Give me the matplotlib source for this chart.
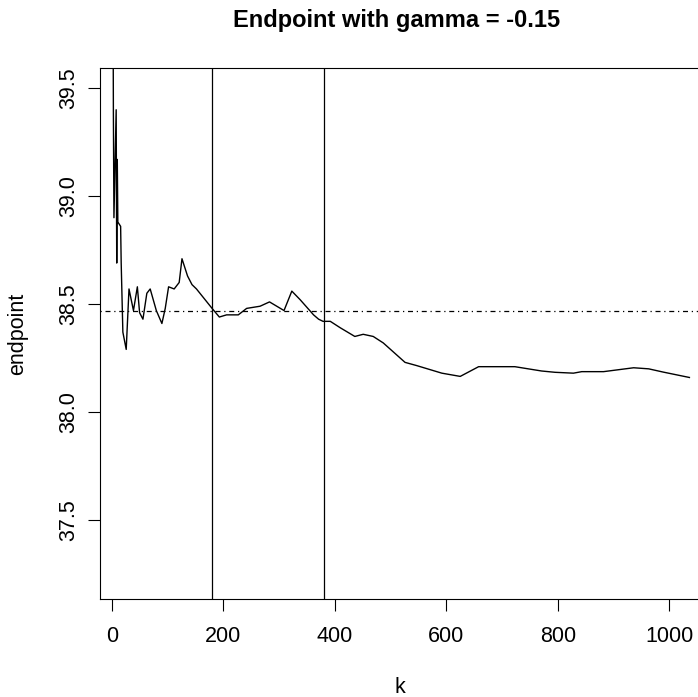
import numpy as np
import matplotlib
matplotlib.use('Agg')
import matplotlib.pyplot as plt

plt.rcParams['font.family'] = ['Liberation Sans', 'DejaVu Sans']

# endpoint estimate for each k
k_vals = [2, 3, 4, 8, 9, 10, 11, 16, 17, 20, 26, 31, 39, 46, 50, 56, 63, 69, 80,
          90, 96, 102, 112, 121, 126, 136, 144, 152, 180, 193, 206, 227, 242, 266,
          283, 296, 309, 323, 338, 362, 371, 379, 392, 410, 436, 451, 469, 487,
          526, 547, 592, 625, 658, 723, 771, 795, 828, 843, 882, 936, 963, 989, 1036]
endpoint = [40.30, 39.39, 38.90, 39.40, 38.69, 39.17, 38.88, 38.86, 38.69, 38.37,
            38.29, 38.57, 38.47, 38.58, 38.46, 38.43, 38.55, 38.57, 38.47,
            38.41, 38.48, 38.58, 38.57, 38.60, 38.71, 38.63, 38.59, 38.57, 38.48,
            38.44, 38.45, 38.45, 38.48, 38.49, 38.51, 38.49, 38.47, 38.56, 38.52,
            38.45, 38.43, 38.42, 38.42, 38.39, 38.35, 38.36, 38.35, 38.32,
            38.23, 38.215, 38.18, 38.165, 38.21, 38.21, 38.19, 38.184, 38.18,
            38.187, 38.187, 38.205, 38.20, 38.185, 38.16]
ref_level = 38.47
breaks = [180, 380]

fig = plt.figure(figsize=(6.98, 6.97), dpi=100)
ax = fig.add_axes([100 / 698, 98 / 697, 600 / 698, 530.7 / 697])

ax.plot(k_vals, endpoint, color='black', lw=1.0)
ax.axhline(ref_level, color='black', lw=0.9, dashes=(1, 3, 4, 3))
for b in breaks:
    ax.axvline(b, color='black', lw=0.9)

ax.set_xlim(-21, 1055)
ax.set_ylim(37.134, 39.592)
ax.set_xticks([0, 200, 400, 600, 800, 1000])
ax.set_yticks([37.5, 38.0, 38.5, 39.0, 39.5])
ax.set_yticklabels(['37.5', '38.0', '38.5', '39.0', '39.5'])

for s in ax.spines.values():
    s.set_linewidth(0.8)
ax.tick_params(length=8.6, width=0.8, labelsize=15.5)
ax.tick_params(axis='x', pad=11)
ax.tick_params(axis='y', pad=6, labelrotation=90)
for lab in ax.get_yticklabels():
    lab.set_va('center')

ax.set_xlabel('k', fontsize=15.5, va='center')
ax.set_ylabel('endpoint', fontsize=15.5, va='center')
ax.xaxis.set_label_coords(0.5, -0.166)
ax.yaxis.set_label_coords(-0.138, 0.5)

fig.text(397 / 698, 1 - 20 / 697, 'Endpoint with gamma = -0.15',
         fontsize=17, fontweight='bold', ha='center', va='center')

fig.savefig('out.png', dpi=100)
